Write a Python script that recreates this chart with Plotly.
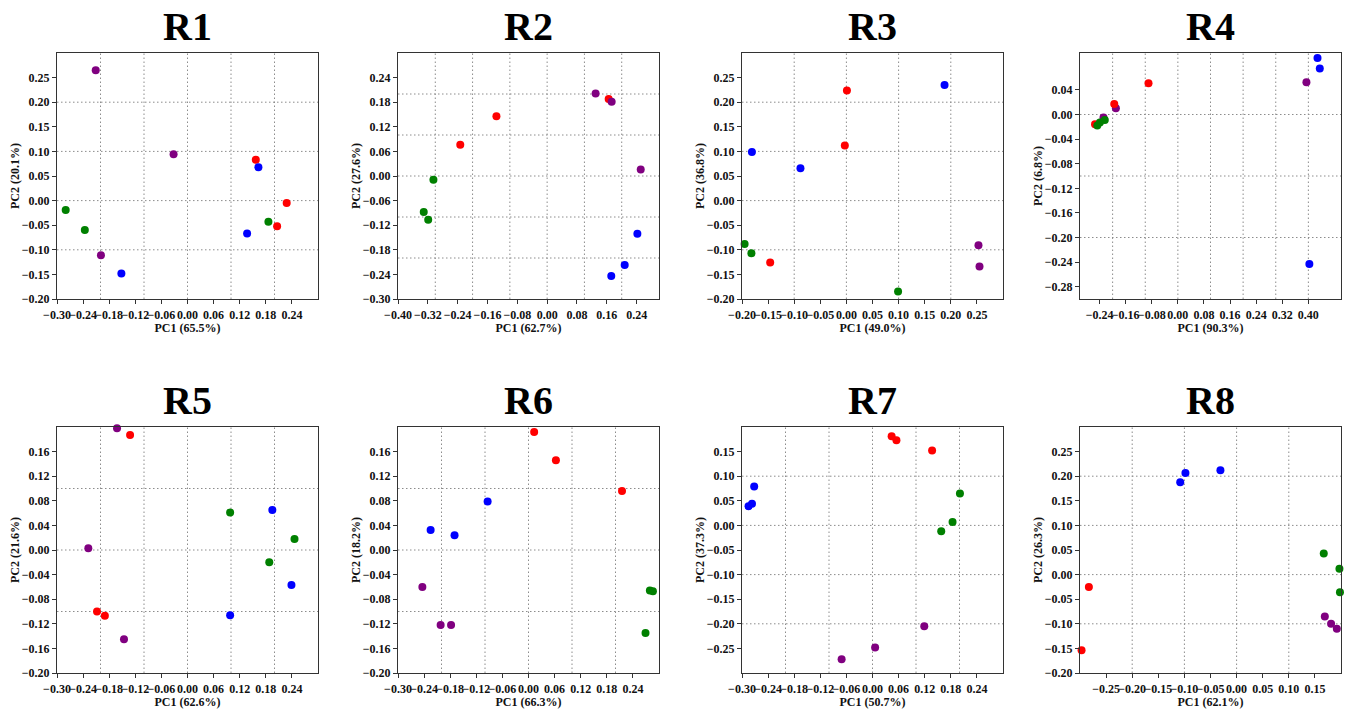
import numpy as np
import plotly.graph_objects as go

W, H = 1350, 715

COLORS = {"red": "#ff0000", "blue": "#0000ff", "green": "#008000", "purple": "#800080"}

# ---------------- data (PC1, PC2, group) ----------------
R1_pc1 = [0.157, 0.228, 0.206, 0.163, 0.137, -0.152, -0.280, -0.236, 0.186, -0.211, -0.032, -0.199]
R1_pc2 = [0.083, -0.005, -0.052, 0.068, -0.067, -0.148, -0.019, -0.060, -0.043, 0.265, 0.094, -0.111]
R1_grp = ["red"] * 3 + ["blue"] * 3 + ["green"] * 3 + ["purple"] * 3

R2_pc1 = [0.165, -0.136, -0.233, 0.242, 0.208, 0.172, -0.305, -0.331, -0.319, 0.130, 0.173, 0.251]
R2_pc2 = [0.188, 0.146, 0.076, -0.141, -0.217, -0.244, -0.009, -0.088, -0.107, 0.201, 0.181, 0.016]
R2_grp = ["red"] * 3 + ["blue"] * 3 + ["green"] * 3 + ["purple"] * 3

R3_pc1 = [0.001, -0.003, -0.146, 0.188, -0.181, -0.088, -0.195, -0.182, 0.099, 0.253, 0.255]
R3_pc2 = [0.224, 0.112, -0.126, 0.235, 0.099, 0.066, -0.088, -0.107, -0.185, -0.091, -0.134]
R3_grp = ["red"] * 3 + ["blue"] * 3 + ["green"] * 3 + ["purple"] * 2

R4_pc1 = [0.394, -0.190, -0.228, -0.090, -0.195, -0.254, 0.428, 0.435, 0.403, -0.247, -0.239, -0.224]
R4_pc2 = [0.0525, 0.010, -0.005, 0.051, 0.017, -0.016, 0.092, 0.075, -0.243, -0.018, -0.013, -0.009]
R4_grp = ["purple"] * 3 + ["red"] * 3 + ["blue"] * 3 + ["green"] * 3

R5_pc1 = [-0.132, -0.208, -0.190, 0.195, 0.239, 0.098, 0.098, 0.246, 0.188, -0.162, -0.228, -0.146]
R5_pc2 = [0.187, -0.100, -0.107, 0.065, -0.057, -0.106, 0.061, 0.018, -0.020, 0.198, 0.003, -0.145]
R5_grp = ["red"] * 3 + ["blue"] * 3 + ["green"] * 3 + ["purple"] * 3

R6_pc1 = [0.013, 0.063, 0.215, -0.094, -0.225, -0.170, 0.279, 0.286, 0.269, -0.244, -0.202, -0.178]
R6_pc2 = [0.192, 0.146, 0.096, 0.079, 0.0325, 0.024, -0.066, -0.067, -0.135, -0.060, -0.122, -0.122]
R6_grp = ["red"] * 3 + ["blue"] * 3 + ["green"] * 3 + ["purple"] * 3

R7_pc1 = [0.044, 0.055, 0.137, -0.272, -0.277, -0.285, 0.201, 0.184, 0.158, 0.119, 0.006, -0.071]
R7_pc2 = [0.181, 0.173, 0.152, 0.079, 0.044, 0.039, 0.065, 0.007, -0.012, -0.205, -0.248, -0.272]
R7_grp = ["red"] * 3 + ["blue"] * 3 + ["green"] * 3 + ["purple"] * 3

R8_pc1 = [-0.283, -0.297, -0.031, -0.098, -0.108, 0.167, 0.197, 0.198, 0.169, 0.181, 0.192]
R8_pc2 = [-0.025, -0.154, 0.212, 0.2065, 0.1875, 0.043, 0.012, -0.036, -0.085, -0.100, -0.110]
R8_grp = ["red"] * 2 + ["blue"] * 3 + ["green"] * 3 + ["purple"] * 3

PANEL_NAMES = ["R1", "R2", "R3", "R4", "R5", "R6", "R7", "R8"]
PC1_LABELS = ["PC1 (65.5%)", "PC1 (62.7%)", "PC1 (49.0%)", "PC1 (90.3%)",
              "PC1 (62.6%)", "PC1 (66.3%)", "PC1 (50.7%)", "PC1 (62.1%)"]
PC2_LABELS = ["PC2 (20.1%)", "PC2 (27.6%)", "PC2 (36.8%)", "PC2 (6.8%)",
              "PC2 (21.6%)", "PC2 (18.2%)", "PC2 (37.3%)", "PC2 (26.3%)"]

# tick values
X_TICKS = [
    [-0.30, -0.24, -0.18, -0.12, -0.06, 0.00, 0.06, 0.12, 0.18, 0.24],
    [-0.40, -0.32, -0.24, -0.16, -0.08, 0.00, 0.08, 0.16, 0.24],
    [-0.20, -0.15, -0.10, -0.05, 0.00, 0.05, 0.10, 0.15, 0.20, 0.25],
    [-0.24, -0.16, -0.08, 0.00, 0.08, 0.16, 0.24, 0.32, 0.40],
    [-0.30, -0.24, -0.18, -0.12, -0.06, 0.00, 0.06, 0.12, 0.18, 0.24],
    [-0.30, -0.24, -0.18, -0.12, -0.06, 0.00, 0.06, 0.12, 0.18, 0.24],
    [-0.30, -0.24, -0.18, -0.12, -0.06, 0.00, 0.06, 0.12, 0.18, 0.24],
    [-0.25, -0.20, -0.15, -0.10, -0.05, 0.00, 0.05, 0.10, 0.15],
]
Y_TICKS = [
    [-0.20, -0.15, -0.10, -0.05, 0.00, 0.05, 0.10, 0.15, 0.20, 0.25],
    [-0.30, -0.24, -0.18, -0.12, -0.06, 0.00, 0.06, 0.12, 0.18, 0.24],
    [-0.20, -0.15, -0.10, -0.05, 0.00, 0.05, 0.10, 0.15, 0.20, 0.25],
    [-0.28, -0.24, -0.20, -0.16, -0.12, -0.08, -0.04, 0.00, 0.04],
    [-0.20, -0.16, -0.12, -0.08, -0.04, 0.00, 0.04, 0.08, 0.12, 0.16],
    [-0.20, -0.16, -0.12, -0.08, -0.04, 0.00, 0.04, 0.08, 0.12, 0.16],
    [-0.25, -0.20, -0.15, -0.10, -0.05, 0.00, 0.05, 0.10, 0.15],
    [-0.20, -0.15, -0.10, -0.05, 0.00, 0.05, 0.10, 0.15, 0.20, 0.25],
]
X_RANGES = [[-0.30, 0.30], [-0.40, 0.30], [-0.20, 0.30], [-0.30, 0.50],
            [-0.30, 0.30], [-0.30, 0.30], [-0.30, 0.30], [-0.30, 0.20]]
Y_RANGES = [[-0.20, 0.30], [-0.30, 0.30], [-0.20, 0.30], [-0.30, 0.10],
            [-0.20, 0.20], [-0.20, 0.20], [-0.30, 0.20], [-0.20, 0.30]]

PANELS = [(R1_pc1, R1_pc2, R1_grp), (R2_pc1, R2_pc2, R2_grp), (R3_pc1, R3_pc2, R3_grp),
          (R4_pc1, R4_pc2, R4_grp), (R5_pc1, R5_pc2, R5_grp), (R6_pc1, R6_pc2, R6_grp),
          (R7_pc1, R7_pc2, R7_grp), (R8_pc1, R8_pc2, R8_grp)]

# ---------------- layout (pixel boxes of plot areas) ----------------
BOX_LEFT = [57, 398, 742, 1080]
BOX_WIDTH = 261
ROW_TOP = [53, 427]
BOX_HEIGHT = 246
YTITLE_OFFSET = 42   # px left of the plot box (centre of the rotated title)

FONT = "Liberation Serif, Times New Roman, serif"
GRID_STEP = 0.1
GRID_LINE = dict(color="#8c8c8c", width=1, dash="1.5px,2.5px")
LABEL_FONT = dict(family=FONT, size=12, color="#111111", weight="bold")

fig = go.Figure()
layout = dict(
    width=W, height=H, autosize=False,
    margin=dict(l=0, r=0, t=0, b=0, pad=0, autoexpand=False),
    paper_bgcolor="white", plot_bgcolor="white",
    showlegend=False,
    font=dict(family=FONT, color="#111111", size=12, weight="bold"),
)
shapes = []
annotations = []

for i, (px, py, grp) in enumerate(PANELS):
    r, c = divmod(i, 4)
    k = i + 1
    xa = "x" if k == 1 else f"x{k}"
    ya = "y" if k == 1 else f"y{k}"
    left = BOX_LEFT[c]
    top = ROW_TOP[r]
    x0, x1 = left / W, (left + BOX_WIDTH) / W
    y1, y0 = 1 - top / H, 1 - (top + BOX_HEIGHT) / H

    px = np.array(px)
    py = np.array(py)
    grp = np.array(grp)
    for g in dict.fromkeys(grp):
        m = grp == g
        fig.add_trace(go.Scatter(
            x=px[m], y=py[m], mode="markers", xaxis=xa, yaxis=ya,
            marker=dict(color=COLORS[g], size=8, line=dict(width=0)),
            cliponaxis=False, hoverinfo="x+y",
        ))

    axis_common = dict(
        showgrid=False, zeroline=False, showline=True, mirror=True,
        linecolor="#333333", linewidth=1.2, ticks="outside", ticklen=4,
        tickcolor="#333333", tickwidth=1, tickformat=".2f", tickangle=0,
        automargin=False, tickfont=LABEL_FONT,
    )
    layout["xaxis" if k == 1 else f"xaxis{k}"] = dict(
        axis_common, domain=[x0, x1], range=X_RANGES[i], tickvals=X_TICKS[i],
        anchor=ya, autorange=False,
        title=dict(text=PC1_LABELS[i], standoff=2, font=LABEL_FONT),
    )
    layout["yaxis" if k == 1 else f"yaxis{k}"] = dict(
        axis_common, domain=[y0, y1], range=Y_RANGES[i], tickvals=Y_TICKS[i],
        anchor=xa, autorange=False,
    )

    # y-axis title as rotated annotation
    annotations.append(dict(
        text=PC2_LABELS[i], xref="paper", yref="paper",
        x=(left - YTITLE_OFFSET) / W, y=(y0 + y1) / 2,
        xanchor="center", yanchor="middle", textangle=-90,
        showarrow=False, font=LABEL_FONT,
    ))

    # dotted grid at multiples of 0.1 (independent of ticks)
    xlo, xhi = X_RANGES[i]
    ylo, yhi = Y_RANGES[i]
    for n in range(int(np.floor(xlo / GRID_STEP)) - 1, int(np.ceil(xhi / GRID_STEP)) + 2):
        v = round(n * GRID_STEP, 10)
        if xlo + 1e-6 < v < xhi - 1e-6:
            shapes.append(dict(type="line", xref=xa, yref=f"{ya} domain", x0=v, x1=v, y0=0, y1=1,
                               line=GRID_LINE, layer="below"))
    for n in range(int(np.floor(ylo / GRID_STEP)) - 1, int(np.ceil(yhi / GRID_STEP)) + 2):
        v = round(n * GRID_STEP, 10)
        if ylo + 1e-6 < v < yhi - 1e-6:
            shapes.append(dict(type="line", xref=f"{xa} domain", yref=ya, x0=0, x1=1, y0=v, y1=v,
                               line=GRID_LINE, layer="below"))

    annotations.append(dict(
        text=PANEL_NAMES[i], xref="paper", yref="paper",
        x=(x0 + x1) / 2, y=y1 + 27 / H, xanchor="center", yanchor="middle",
        showarrow=False, font=dict(family=FONT, size=40, color="#000000", weight="bold"),
    ))

layout["shapes"] = shapes
layout["annotations"] = annotations
fig.update_layout(**layout)
fig.write_html(
    "out.html",
    config={"displayModeBar": False, "responsive": False},
    post_script="document.body.style.margin='0';document.body.style.overflow='hidden';"
                "document.documentElement.style.overflow='hidden';",
)
